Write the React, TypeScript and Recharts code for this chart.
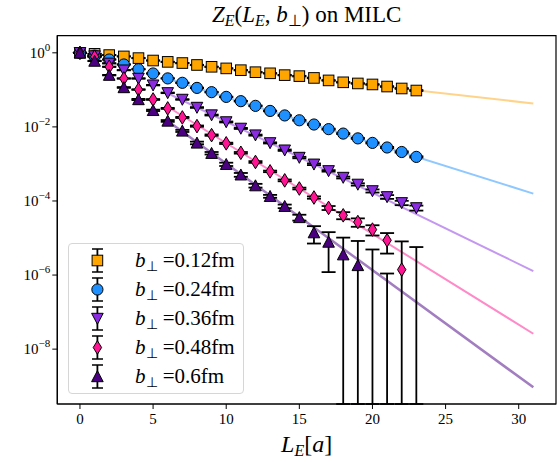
import React from "react";
import {
  ComposedChart, Scatter, Line, XAxis, YAxis, ErrorBar, Legend, ReferenceArea,
} from "recharts";

// L_E in lattice units
const lengths = [0, 1, 2, 3, 4, 5, 6, 7, 8, 9, 10, 11, 12, 13, 14, 15, 16, 17, 18, 19, 20, 21, 22, 23];

// Z_E for each b_perp (null = not shown, negative = only the error bar is visible)
const z012 = [1, 0.94, 0.87, 0.8, 0.72, 0.62, 0.57, 0.53, 0.47, 0.42, 0.38, 0.34, 0.3, 0.28, 0.25, 0.235, 0.21, 0.18, 0.16, 0.149, 0.14, 0.123, 0.109, 0.096];
const e012 = [0.003, 0.004, 0.005, 0.005, 0.005, 0.005, 0.005, 0.005, 0.005, 0.005, 0.005, 0.005, 0.004, 0.004, 0.004, 0.004, 0.004, 0.004, 0.003, 0.003, 0.003, 0.003, 0.003, 0.003];

const z024 = [1, 0.84, 0.66, 0.485, 0.36, 0.277, 0.204, 0.155, 0.113, 0.0867, 0.0646, 0.0495, 0.037, 0.027, 0.0204, 0.0151, 0.0116, 0.0087, 0.0066, 0.0049, 0.0037, 0.00278, 0.0021, 0.00155];
const e024 = [0.003, 0.004, 0.004, 0.004, 0.003, 0.003, 0.003, 0.002, 0.002, 0.0015, 0.0012, 0.001, 0.0008, 0.0006, 0.0005, 0.0004, 0.0003, 0.00025, 0.0002, 0.00015, 0.00012, 0.0001, 0.00008, 0.00006];

const z036 = [1, 0.82, 0.52, 0.34, 0.203, 0.134, 0.083, 0.055, 0.0334, 0.0209, 0.0136, 0.0091, 0.006, 0.0037, 0.00235, 0.00149, 0.00098, 0.00065, 0.00043, 0.00028, 0.000187, 0.000129, 0.000089, 0.000065];
const e036 = [0.003, 0.004, 0.004, 0.003, 0.003, 0.002, 0.0015, 0.001, 0.0008, 0.0006, 0.0004, 0.0003, 0.0002, 0.00013, 0.0001, 0.00007, 0.00005, 0.00003, 0.000025, 0.00002, 0.000018, 0.000015, 0.000012, 0.00001];

const z048 = [1, 0.78, 0.42, 0.203, 0.102, 0.055, 0.0316, 0.018, 0.0105, 0.006, 0.0036, 0.002, 0.00113, 0.00063, 0.00036, 0.000217, 0.000124, 0.000065, 0.000041, 0.000027, 0.0000169, 0.0000087, 0.0000014, null];
const e048 = [0.003, 0.004, 0.004, 0.003, 0.002, 0.0015, 0.001, 0.0006, 0.0004, 0.00025, 0.00015, 0.0001, 0.00006, 0.00003, 0.00002, 0.000012, 0.000009, 0.000008, 0.0000089, 0.0000069, 0.0000052, 0.0000049, 0.0000067, null];

const z060 = [1, 0.6, 0.25, 0.116, 0.055, 0.028, 0.0145, 0.0078, 0.0037, 0.00195, 0.00098, 0.00051, 0.00026, 0.000134, 0.000072, 0.000036, 0.000014, 0.0000078, 0.00000355, 0.00000182, -0.0000016, -0.0000054, null, -0.0000008];
const e060 = [0.003, 0.004, 0.004, 0.003, 0.002, 0.0012, 0.0008, 0.0005, 0.0003, 0.00015, 0.0001, 0.00006, 0.00003, 0.000012, 0.000008, 0.0000065, 0.0000069, 0.0000066, 0.0000067, 0.0000065, 0.0000065, 0.0000065, null, 0.0000065];

// fit curves: value at the first and last L_E
const fitX = [6, 31];
const fit012 = [0.54, 0.043];
const fit024 = [0.2, 0.000158];
const fit036 = [0.081, 0.00000128];
const fit048 = [0.035, 0.000000026];
const fit060 = [0.0145, 0.00000000093];

const xTicks = [0, 5, 10, 15, 20, 25, 30];
const yTicks = [1, 1e-2, 1e-4, 1e-6, 1e-8];

const X_DOMAIN: [number, number] = [-1.55, 32.55];
const Y_DOMAIN: [number, number] = [3.3e-10, 2.9];
const FONT = "'Liberation Serif', 'Times New Roman', serif";

type Kind = "square" | "circle" | "tridown" | "diamond" | "triup";

const series: { label: string; vals: (number | null)[]; errs: (number | null)[]; fit: number[]; color: string; lineColor: string; lineWidth: number; kind: Kind }[] = [
  { label: "0.12fm", vals: z012, errs: e012, fit: fit012, color: "#FFA500", lineColor: "#FFD38A", lineWidth: 2, kind: "square" },
  { label: "0.24fm", vals: z024, errs: e024, fit: fit024, color: "#1E90FF", lineColor: "#8FC8FF", lineWidth: 2, kind: "circle" },
  { label: "0.36fm", vals: z036, errs: e036, fit: fit036, color: "#8A2BE2", lineColor: "#C498F0", lineWidth: 2, kind: "tridown" },
  { label: "0.48fm", vals: z048, errs: e048, fit: fit048, color: "#FF1493", lineColor: "#FF8AC8", lineWidth: 2, kind: "diamond" },
  { label: "0.6fm", vals: z060, errs: e060, fit: fit060, color: "#4B0082", lineColor: "#A27EC0", lineWidth: 2.5, kind: "triup" },
];

// error bars that dip below zero are cut at the bottom of the axis
function rowsFor(vals: (number | null)[], errs: (number | null)[]) {
  const out: { x: number; y: number; show: boolean; err: number[] }[] = [];
  vals.forEach((v, i) => {
    if (v == null) return;
    const e = errs[i] ?? 0;
    const hi = v + e;
    if (hi <= 0) return;
    const lo = Math.max(v - e, Y_DOMAIN[0]);
    const y = v > 0 ? v : hi;
    out.push({ x: lengths[i], y, show: v > 0, err: [y - lo, hi - y] });
  });
  return out;
}

function Glyph({ kind, x, y, fill }: { kind: Kind; x: number; y: number; fill: string }) {
  const st = { fill, stroke: "#000", strokeWidth: 1 };
  switch (kind) {
    case "square":
      return <rect x={x - 5.3} y={y - 5.3} width={10.6} height={10.6} {...st} />;
    case "circle":
      return <circle cx={x} cy={y} r={5.6} {...st} />;
    case "tridown":
      return <polygon points={`${x - 5.8},${y - 5.2} ${x + 5.8},${y - 5.2} ${x},${y + 5.8}`} {...st} />;
    case "diamond":
      return <polygon points={`${x},${y - 6.8} ${x + 4.2},${y} ${x},${y + 6.8} ${x - 4.2},${y}`} {...st} />;
    default:
      return <polygon points={`${x},${y - 5.8} ${x + 5.8},${y + 5.2} ${x - 5.8},${y + 5.2}`} {...st} />;
  }
}

const PowTick = (props: any) => {
  const { x, y, payload } = props;
  const exp = Math.round(Math.log10(payload.value));
  return (
    <text x={x} y={y + 5} textAnchor="end" fontFamily={FONT} fontSize={15} fill="#000">
      10
      <tspan dy={-7} fontSize={11}>{exp === 0 ? "0" : "\u2212" + Math.abs(exp)}</tspan>
    </text>
  );
};

const XTitle = (props: any) => {
  const vb = props.viewBox;
  return (
    <text x={vb.x + vb.width / 2} y={vb.y + 48} textAnchor="middle" fontFamily={FONT} fontSize={24} fill="#000">
      <tspan fontStyle="italic">L</tspan>
      <tspan fontStyle="italic" fontSize={16} dy={4}>E</tspan>
      <tspan dy={-4}>[</tspan>
      <tspan fontStyle="italic">a</tspan>
      <tspan>]</tspan>
    </text>
  );
};

const ChartTitle = (props: any) => {
  const vb = props.viewBox;
  return (
    <text x={vb.x + vb.width / 2} y={vb.y - 14} textAnchor="middle" fontFamily={FONT} fontSize={23} fill="#000">
      <tspan fontStyle="italic">Z</tspan>
      <tspan fontStyle="italic" fontSize={16} dy={4}>E</tspan>
      <tspan dy={-4}>(</tspan>
      <tspan fontStyle="italic">L</tspan>
      <tspan fontStyle="italic" fontSize={16} dy={4}>E</tspan>
      <tspan dy={-4}>, </tspan>
      <tspan fontStyle="italic">b</tspan>
      <tspan fontSize={16} dy={4}>{"\u22A5"}</tspan>
      <tspan dy={-4}>) on MILC</tspan>
    </text>
  );
};

function LegendBox() {
  return (
    <div
      style={{
        width: 176, height: 151, boxSizing: "border-box", border: "1px solid #d6d6d6",
        borderRadius: 4, background: "rgba(255,255,255,0.8)", paddingTop: 2, fontFamily: FONT,
      }}
    >
      {series.map((s) => (
        <div key={s.label} style={{ display: "flex", alignItems: "center", height: 29 }}>
          <svg width={66} height={29} style={{ display: "block" }}>
            <line x1={28.4} y1={3} x2={28.4} y2={26} stroke="#000" strokeWidth={1.8} />
            <line x1={23} y1={3} x2={34} y2={3} stroke="#000" strokeWidth={1.5} />
            <line x1={23} y1={26} x2={34} y2={26} stroke="#000" strokeWidth={1.5} />
            <Glyph kind={s.kind} x={28.4} y={14.5} fill={s.color} />
          </svg>
          <span style={{ fontSize: 21, color: "#000", whiteSpace: "nowrap" }}>
            <i>b</i>
            <span style={{ fontSize: 14, position: "relative", top: 4 }}>{"\u22A5"}</span>
            {" =" + s.label}
          </span>
        </div>
      ))}
    </div>
  );
}

export default function App() {
  return (
    <div style={{ position: "absolute", left: 0, top: 0, width: 559, height: 460, background: "#fff" }}>
      <ComposedChart width={559} height={460} margin={{ top: 35.7, right: 3, bottom: 0, left: 0 }}>
        <XAxis
          dataKey="x"
          type="number"
          domain={X_DOMAIN}
          ticks={xTicks}
          allowDataOverflow
          height={56}
          tickSize={5}
          tickMargin={4}
          axisLine={{ stroke: "#000", strokeWidth: 1.2 }}
          tickLine={{ stroke: "#000" }}
          tick={{ fill: "#000", fontSize: 15, fontFamily: FONT }}
          label={XTitle}
        />
        <YAxis
          dataKey="y"
          type="number"
          scale="log"
          domain={Y_DOMAIN}
          allowDataOverflow
          ticks={yTicks}
          width={57.3}
          tickSize={5}
          tickMargin={2}
          axisLine={{ stroke: "#000", strokeWidth: 1.2 }}
          tickLine={{ stroke: "#000" }}
          tick={<PowTick />}
        />
        <ReferenceArea
          x1={X_DOMAIN[0]}
          x2={X_DOMAIN[1]}
          y1={Y_DOMAIN[0]}
          y2={Y_DOMAIN[1]}
          fill="none"
          stroke="#000"
          strokeWidth={1.2}
          ifOverflow="visible"
          label={ChartTitle}
        />
        {series.map((s) => (
          <Line
            key={"fit" + s.label}
            data={fitX.map((x, i) => ({ x, y: s.fit[i] }))}
            dataKey="y"
            stroke={s.lineColor}
            strokeWidth={s.lineWidth}
            dot={false}
            legendType="none"
            isAnimationActive={false}
          />
        ))}
        {series.map((s) => (
          <Scatter
            key={"err" + s.label}
            data={rowsFor(s.vals, s.errs)}
            dataKey="y"
            shape={() => <g />}
            legendType="none"
            isAnimationActive={false}
          >
            <ErrorBar dataKey="err" direction="y" width={7} stroke="#000" strokeWidth={1.8} isAnimationActive={false} />
          </Scatter>
        ))}
        {series.map((s) => (
          <Scatter
            key={"pts" + s.label}
            data={rowsFor(s.vals, s.errs)}
            dataKey="y"
            legendType="none"
            isAnimationActive={false}
            shape={(p: any) => (p.payload.show ? <Glyph kind={s.kind} x={p.cx} y={p.cy} fill={s.color} /> : <g />)}
          />
        ))}
        <Legend
          layout="horizontal"
          verticalAlign="middle"
          align="center"
          wrapperStyle={{ left: 68, top: 243, width: 176, height: 151 }}
          content={() => <LegendBox />}
        />
      </ComposedChart>
    </div>
  );
}
